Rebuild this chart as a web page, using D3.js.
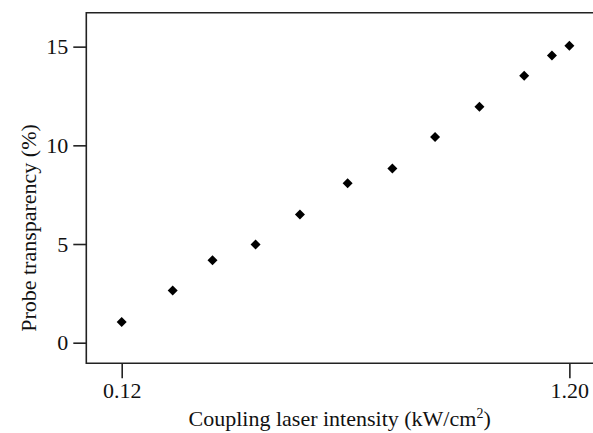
<!DOCTYPE html>
<html>
<head>
<meta charset="utf-8">
<script src="https://d3js.org/d3.v7.min.js"></script>
<style>
  body { margin: 0; background: #fff; }
  text { font-family: "Liberation Serif", "Times New Roman", serif; fill: #111; }
</style>
</head>
<body>
<script>
// coupling laser intensity (kW/cm2) and probe transparency (%)
var intensity = [0.12, 0.243, 0.339, 0.443, 0.550, 0.665, 0.773, 0.876, 0.983, 1.091, 1.158, 1.20];
var transparency = [1.05, 2.65, 4.18, 4.98, 6.50, 8.08, 8.83, 10.42, 11.95, 13.52, 14.55, 15.05];
var xTicks = [0.12, 1.20];
var yTicks = [0, 5, 10, 15];

var w = 593;
var h = 433;
var pLeft = 86.3, pTop = 12.7, pBottom = 363.3, pRight = 593;

var svg = d3.select("body").append("svg")
  .attr("width", w)
  .attr("height", h);

var x = d3.scaleLinear().domain([0.0346, 1.257]).range([pLeft, pRight]);
var y = d3.scaleLinear().domain([-1.044, 16.72]).range([pBottom, pTop]);

// frame: top, left and bottom lines only
svg.append("path")
  .attr("d", "M" + pRight + "," + pTop + "H" + pLeft + "V" + pBottom + "H" + pRight)
  .attr("fill", "none")
  .attr("stroke", "#222")
  .attr("stroke-width", 1.6);

var yAxis = svg.append("g")
  .attr("transform", "translate(" + pLeft + ",0)")
  .call(d3.axisLeft(y).tickValues(yTicks).tickSize(13).tickPadding(5));

var xAxis = svg.append("g")
  .attr("transform", "translate(0," + pBottom + ")")
  .call(d3.axisBottom(x).tickValues(xTicks).tickFormat(d3.format(".2f")).tickSize(15).tickPadding(4));

[xAxis, yAxis].forEach(function(g) {
  g.select(".domain").remove();
  g.selectAll(".tick line").attr("stroke", "#222").attr("stroke-width", 1.6);
  g.selectAll(".tick text")
    .style("font-family", "'Liberation Serif', 'Times New Roman', serif")
    .style("font-size", "22px")
    .attr("fill", "#111");
});

// diamonds
svg.selectAll(".pt")
  .data(intensity)
  .enter().append("path")
  .attr("class", "pt")
  .attr("d", d3.symbol().type(d3.symbolSquare).size(50))
  .attr("transform", function(d, i) {
    return "translate(" + x(d) + "," + y(transparency[i]) + ") rotate(45)";
  })
  .attr("fill", "#000");

// axis titles
var xl = svg.append("text")
  .attr("x", (pLeft + pRight) / 2)
  .attr("y", 426)
  .attr("text-anchor", "middle")
  .style("font-size", "22px");
xl.append("tspan").text("Coupling laser intensity (kW/cm");
xl.append("tspan").attr("dy", -8).style("font-size", "14px").text("2");
xl.append("tspan").attr("dy", 8).text(")");

svg.append("text")
  .attr("transform", "translate(36,228) rotate(-90)")
  .attr("text-anchor", "middle")
  .style("font-size", "22px")
  .text("Probe transparency (%)");
</script>
</body>
</html>
